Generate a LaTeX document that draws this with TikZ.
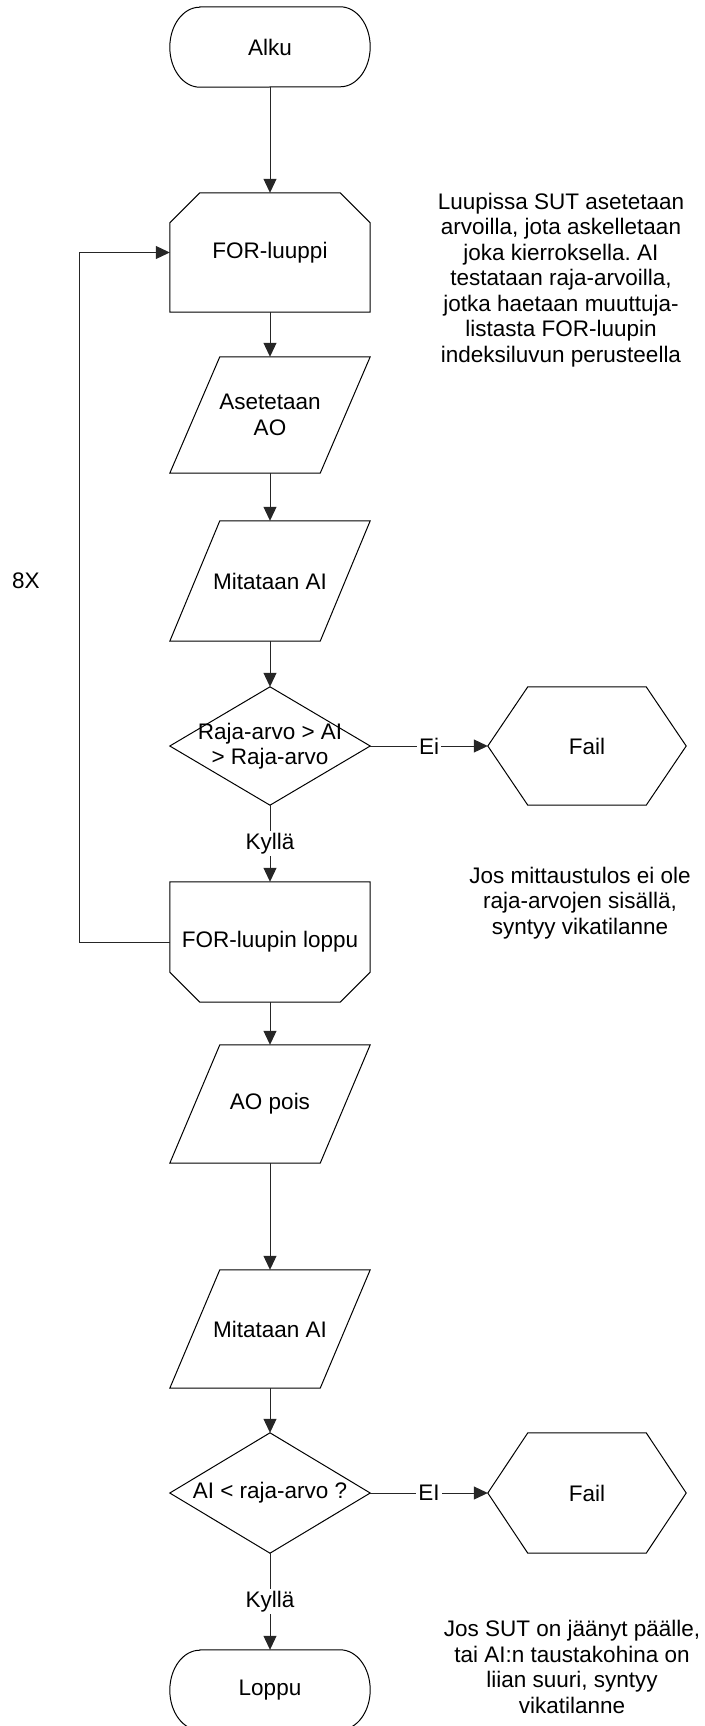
\documentclass[tikz,border=0pt]{standalone}
\usepackage{fontspec}
\setmainfont{Liberation Sans}
\usetikzlibrary{arrows.meta}
\frenchspacing
\newcommand\drawterm[1]{\draw[outl] ([xshift=30pt]#1.north west) -- ([xshift=-30pt]#1.north east) arc[start angle=90,end angle=-90,x radius=30pt,y radius=40pt] -- ([xshift=30pt]#1.south west) arc[start angle=270,end angle=90,x radius=30pt,y radius=40pt] -- cycle;}
\newcommand\drawpara[1]{\draw[outl] ([xshift=50pt]#1.north west) -- (#1.north east) -- ([xshift=-50pt]#1.south east) -- (#1.south west) -- cycle;}
\newcommand\drawloopstart[1]{\draw[outl] ([xshift=30pt]#1.north west) -- ([xshift=-30pt]#1.north east) -- ([yshift=-30pt]#1.north east) -- (#1.south east) -- (#1.south west) -- ([yshift=-30pt]#1.north west) -- cycle;}
\newcommand\drawloopend[1]{\draw[outl] (#1.north west) -- (#1.north east) -- ([yshift=30pt]#1.south east) -- ([xshift=-30pt]#1.south east) -- ([xshift=30pt]#1.south west) -- ([yshift=30pt]#1.south west) -- cycle;}
\newcommand\drawdiam[1]{\draw[outl] (#1.north) -- (#1.east) -- (#1.south) -- (#1.west) -- cycle;}
\newcommand\drawhex[1]{\draw[outl] (#1.west) -- ([xshift=40pt]#1.north west) -- ([xshift=-40pt]#1.north east) -- (#1.east) -- ([xshift=-40pt]#1.south east) -- ([xshift=40pt]#1.south west) -- cycle;}
\begin{document}
\begin{tikzpicture}[x=1pt,y=-1pt,
  font=\fontsize{22.5}{25.5}\selectfont,
  box/.style={rectangle, inner sep=0pt, minimum width=200pt, minimum height=#1, align=center},
  outl/.style={draw=black, line width=1pt, line join=miter},
  conn/.style={draw=black!85, line width=1pt},
  arr/.style={conn, -{Triangle[length=14pt,width=13pt]}},
  lbl/.style={fill=white, inner sep=2pt},
  note/.style={align=center, inner sep=0pt}]
\useasboundingbox (0,0) rectangle (704,1726);

% nodes
\node[box=80pt] (alku) at (270,47) {Alku};
\node[box=119pt] (for1) at (270,252.5) {FOR-luuppi};
\node[box=116pt] (aset) at (270,415) {Asetetaan\\AO};
\node[box=120pt] (mit1) at (270,581) {Mitataan AI};
\node[box=118pt] (dec1) at (270,746) {Raja-arvo > AI\\> Raja-arvo};
\node[box=118pt, minimum width=198pt] (fail1) at (587,746) {Fail};
\node[box=120pt] (forend) at (270,942) {FOR-luupin loppu};
\node[box=118pt] (aopois) at (270,1104) {AO pois};
\node[box=118pt] (mit2) at (270,1329) {Mitataan AI};
\node[box=120pt] (dec2) at (270,1493) {AI < raja-arvo ?};
\node[box=120pt, minimum width=198pt] (fail2) at (587,1493) {Fail};
\node[box=80pt] (loppu) at (270,1690) {Loppu};

% outlines
\drawterm{alku}
\drawloopstart{for1}
\drawpara{aset}
\drawpara{mit1}
\drawdiam{dec1}
\drawhex{fail1}
\drawloopend{forend}
\drawpara{aopois}
\drawpara{mit2}
\drawdiam{dec2}
\drawhex{fail2}
\drawterm{loppu}

% connectors
\draw[arr] (alku.south) -- (for1.north);
\draw[arr] (for1.south) -- (aset.north);
\draw[arr] (aset.south) -- (mit1.north);
\draw[arr] (mit1.south) -- (dec1.north);
\draw[arr] (dec1.east) -- node[lbl]{Ei} (fail1.west);
\draw[arr] (dec1.south) -- node[lbl]{Kyllä} (forend.north);
\draw[arr] (forend.west) -- ++(-90,0) |- (for1.west);
\draw[arr] (forend.south) -- (aopois.north);
\draw[arr] (aopois.south) -- (mit2.north);
\draw[arr] (mit2.south) -- (dec2.north);
\draw[arr] (dec2.east) -- node[lbl]{EI} (fail2.west);
\draw[arr] (dec2.south) -- node[lbl]{Kyllä} (loppu.north);

% texts
\node (n8x) at (26,581) {8X};
\node[note] (note1) at (561,280) {Luupissa SUT asetetaan\\arvoilla, jota askelletaan\\joka kierroksella. AI\\testataan raja-arvoilla,\\jotka haetaan muuttuja-\\listasta FOR-luupin\\indeksiluvun perusteella};
\node[note] (note2) at (580,903) {Jos mittaustulos ei ole\\raja-arvojen sisällä,\\syntyy vikatilanne};
\node[note] (note3) at (572,1667) {Jos SUT on jäänyt päälle,\\tai AI:n taustakohina on\\liian suuri, syntyy\\vikatilanne};
\end{tikzpicture}
\end{document}
